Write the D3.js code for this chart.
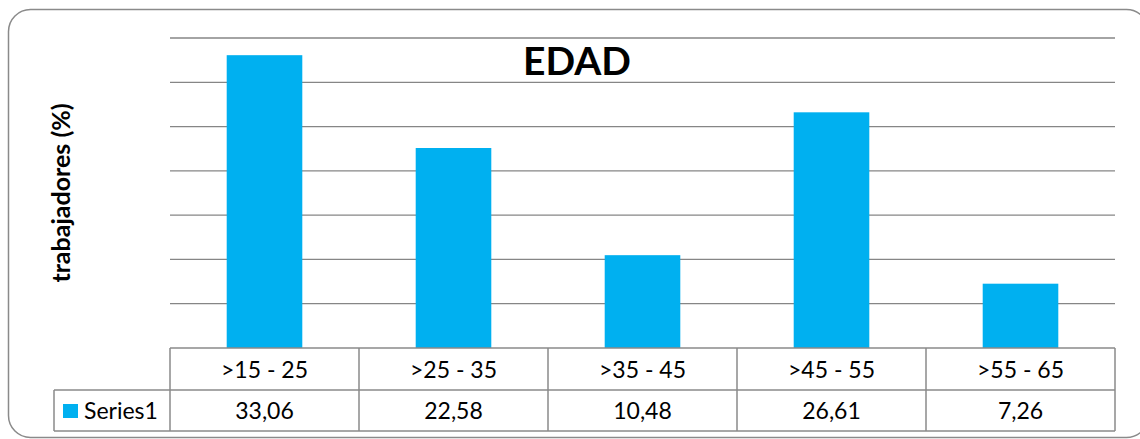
<!DOCTYPE html>
<html>
<head>
<meta charset="UTF-8">
<title>EDAD</title>
<script src="https://d3js.org/d3.v7.min.js"></script>
<style>
  body { margin: 0; background: #fff; }
  text { font-family: Lato, "Open Sans", sans-serif; fill: #000; }
</style>
</head>
<body>
<svg id="chart" width="1140" height="439"></svg>
<script>
// data
var categories = [">15 - 25", ">25 - 35", ">35 - 45", ">45 - 55", ">55 - 65"];
var values = [33.06, 22.58, 10.48, 26.61, 7.26];
var valueLabels = ["33,06", "22,58", "10,48", "26,61", "7,26"];
var seriesName = "Series1";
var yTicks = [0, 5, 10, 15, 20, 25, 30, 35];

var svg = d3.select("#chart");
var barColor = "#00b0f0", gridColor = "#868686";

// outer frame
svg.append("rect")
  .attr("x", 8.5).attr("y", 9.5)
  .attr("width", 1140).attr("height", 428)
  .attr("rx", 22)
  .attr("fill", "#fff")
  .attr("stroke", "#8a8a8a")
  .attr("stroke-width", 1.5);

var plotL = 170, plotR = 1115, plotT = 38, plotB = 348;
var x = d3.scaleBand().domain(categories).range([plotL, plotR]);
var y = d3.scaleLinear().domain([0, 35]).range([plotB, plotT]);

// gridlines
svg.append("g").selectAll("line")
  .data(yTicks.slice(1))
  .enter().append("line")
    .attr("x1", plotL).attr("x2", plotR)
    .attr("y1", d => y(d)).attr("y2", d => y(d))
    .attr("stroke", gridColor).attr("stroke-width", 1.3);

// bars
var bw = x.bandwidth() * 0.4;
svg.append("g").selectAll("rect")
  .data(values)
  .enter().append("rect")
    .attr("x", (d, i) => x(categories[i]) + (x.bandwidth() - bw) / 2)
    .attr("y", d => y(d))
    .attr("width", bw)
    .attr("height", d => y(0) - y(d))
    .attr("fill", barColor);

// title
svg.append("text")
  .attr("x", 577).attr("y", 75)
  .attr("text-anchor", "middle")
  .attr("font-size", 39).attr("font-weight", "bold")
  .text("EDAD");

// y axis title
svg.append("text")
  .attr("transform", "translate(70,193) rotate(-90)")
  .attr("text-anchor", "middle")
  .attr("font-size", 25).attr("font-weight", "bold")
  .text("trabajadores (%)");

// data table
var rowTop = 348, rowMid = 390, rowBot = 431, legLeft = 54;
var table = svg.append("g").attr("stroke", "#8a8a8a").attr("stroke-width", 1.5).attr("fill", "none");
table.append("line").attr("x1", plotL).attr("x2", plotR).attr("y1", rowTop).attr("y2", rowTop);
table.append("line").attr("x1", legLeft).attr("x2", plotR).attr("y1", rowMid).attr("y2", rowMid);
table.append("line").attr("x1", legLeft).attr("x2", plotR).attr("y1", rowBot).attr("y2", rowBot);
table.append("line").attr("x1", legLeft).attr("x2", legLeft).attr("y1", rowMid).attr("y2", rowBot);
table.selectAll(".col")
  .data(categories.concat(["end"]))
  .enter().append("line")
    .attr("x1", (d, i) => plotL + i * x.bandwidth())
    .attr("x2", (d, i) => plotL + i * x.bandwidth())
    .attr("y1", rowTop).attr("y2", rowBot);

svg.append("g").selectAll("text")
  .data(categories)
  .enter().append("text")
    .attr("x", d => x(d) + x.bandwidth() / 2)
    .attr("y", 378)
    .attr("text-anchor", "middle")
    .attr("font-size", 23)
    .text(d => d);

svg.append("g").selectAll("text")
  .data(valueLabels)
  .enter().append("text")
    .attr("x", (d, i) => x(categories[i]) + x.bandwidth() / 2)
    .attr("y", 419)
    .attr("text-anchor", "middle")
    .attr("font-size", 23)
    .text(d => d);

// legend key
svg.append("rect")
  .attr("x", 63).attr("y", 404)
  .attr("width", 15).attr("height", 14)
  .attr("fill", barColor);
svg.append("text")
  .attr("x", 84).attr("y", 419)
  .attr("font-size", 23)
  .text(seriesName);
</script>
</body>
</html>
